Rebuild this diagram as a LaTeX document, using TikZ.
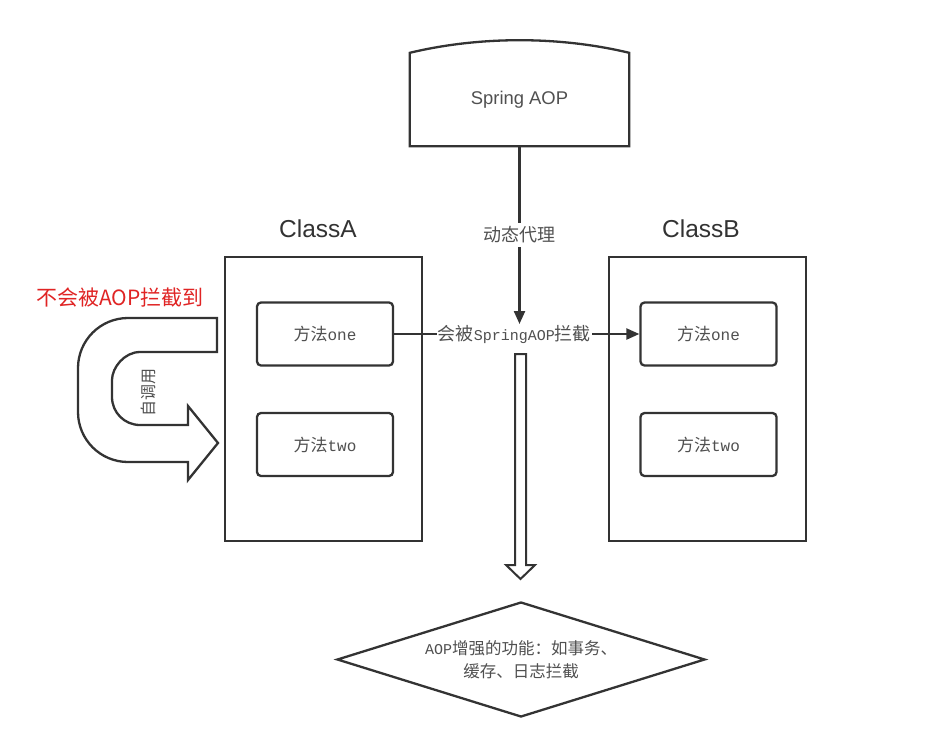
\documentclass[tikz,border=0pt]{standalone}
\usepackage{fontspec}
\setmainfont{Liberation Sans}
\newfontfamily\cjk{Noto Sans CJK SC}
\newfontfamily\lmono{Liberation Mono}
\newfontfamily\arial{Liberation Sans}
\usetikzlibrary{arrows.meta,shapes.geometric}
\definecolor{ink}{HTML}{333333}
\definecolor{txt}{HTML}{505050}
\definecolor{warn}{HTML}{E02424}
\newcommand{\hw}[1]{{\lmono\fontsize{15}{16}\selectfont #1}}
\begin{document}
\begin{tikzpicture}[x=1pt,y=-1pt,
  ln/.style={draw=ink,line width=2.3pt},
  clsbox/.style={ln,minimum width=197pt,minimum height=284pt,inner sep=0pt},
  mbox/.style={ln,rounded corners=4pt,minimum width=136pt,minimum height=63pt,inner sep=0pt,text=txt,font=\cjk\fontsize{17}{19}\selectfont},
  title/.style={font=\arial\fontsize{24.5}{28}\selectfont,text=ink},
  lbl/.style={fill=white,text=txt,inner sep=2pt,font=\cjk\fontsize{18}{20}\selectfont},
  tip/.style={-{Triangle[length=13pt,width=11pt]}}
]
\fill[white] (0,0) rectangle (930,753);

% Spring AOP
\node[minimum width=219pt,minimum height=93pt,inner sep=0pt,font=\arial\fontsize{18.4}{21}\selectfont,text=txt] (spring) at (519.5,99.5) {Spring AOP};
\draw[ln] (spring.north west) .. controls (480,36) and (559,36) .. (spring.north east) -- (spring.south east) -- (spring.south west) -- cycle;

% classes
\node[clsbox] (A) at (323.5,399) {};
\node[clsbox] (B) at (707.5,399) {};
\node[title] (tA) at (318,229) {ClassA};
\node[title] (tB) at (701,229) {ClassB};

\node[mbox] (A1) at (325,334) {方法{\lmono\fontsize{16}{17}\selectfont one}};
\node[mbox] (A2) at (325,444.5) {方法{\lmono\fontsize{16}{17}\selectfont two}};
\node[mbox] (B1) at (708.5,334) {方法{\lmono\fontsize{16}{17}\selectfont one}};
\node[mbox] (B2) at (708.5,444.5) {方法{\lmono\fontsize{16}{17}\selectfont two}};

% dynamic proxy arrow
\coordinate (ptip) at (519.5,324);
\draw[ln,tip] (spring.south) -- node[lbl,pos=0.5,inner sep=4pt] {动态代理} (ptip);

% intercept arrow
\draw[ln,tip] (A1.east) -- node[lbl,pos=0.49,inner sep=1pt] {会被\hw{SpringAOP}拦截} (B1.west);

% hollow arrow
\draw[draw=ink,line width=2pt,line join=miter] (515,354) -- (526,354) -- (526,565) -- (535,565) -- (520.5,579) -- (506,565) -- (515,565) -- cycle;

% diamond
\node[diamond,ln,minimum width=368pt,minimum height=115pt,inner sep=0pt,aspect=3.2,text=txt,align=center,font=\cjk\fontsize{16.5}{23}\selectfont] (dia) at (521,659.5) {\hw{AOP}增强的功能：如事务、\\缓存、日志拦截};

% self-call U arrow
\draw[ln,line join=miter] (217,318) -- (128,318) .. controls (100.4,318) and (78,340.4) .. (78,368)
  -- (78,412) .. controls (78,439.6) and (100.4,462) .. (128,462)
  -- (188,462) -- (188,480) -- (218,443) -- (188,406) -- (188,425)
  -- (140,425) .. controls (124.5,425) and (112,412.5) .. (112,397)
  -- (112,380) .. controls (112,367.5) and (124.5,352) .. (140,352)
  -- (217,352) -- cycle;
\node[rotate=90,text=txt,font=\cjk\fontsize{16}{18}\selectfont] (self) at (148,392) {自调用};
\node[text=warn,font=\cjk\fontsize{21}{24}\selectfont] (warnlbl) at (120,298) {不会被AOP拦截到};
\end{tikzpicture}
\end{document}
